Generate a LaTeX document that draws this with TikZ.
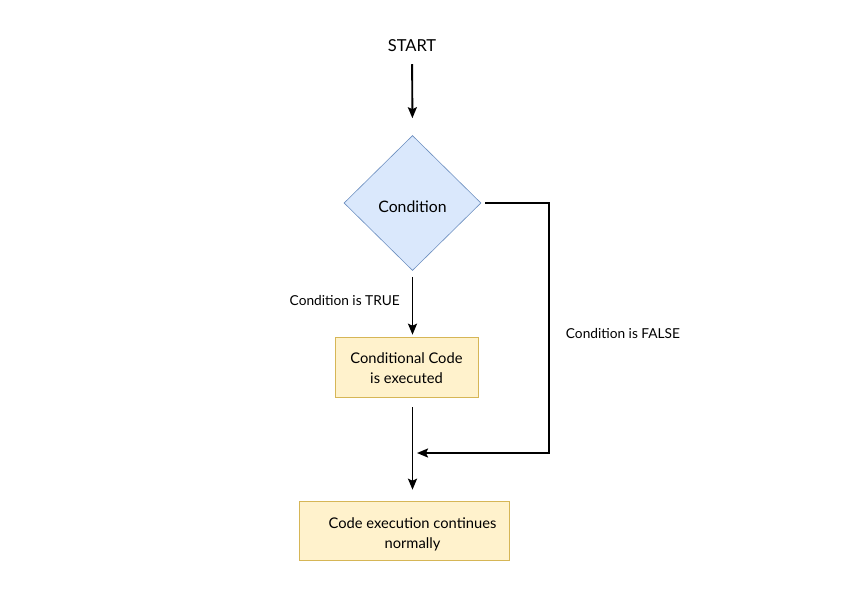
\documentclass[tikz,border=0pt]{standalone}
\usepackage{fontspec}
\setmainfont{Lato}
\usetikzlibrary{shapes.geometric,arrows.meta}
\definecolor{dfill}{HTML}{DAE8FC}
\definecolor{dline}{HTML}{6C8EBF}
\definecolor{yfill}{HTML}{FFF2CC}
\definecolor{yline}{HTML}{D6B656}
\tikzset{
  conn/.style={line width=1.9pt, draw=black, -{Stealth[length=11pt,width=9pt,inset=2pt]}},
  ybox/.style={draw=yline, fill=yfill, line width=0.6pt, align=center, inner sep=0pt, font=\fontsize{14.7}{20}\selectfont},
  lbl/.style={font=\fontsize{13.7}{16}\selectfont, inner sep=0pt},
}
\begin{document}
\begin{tikzpicture}[x=1pt,y=-1pt]
\useasboundingbox (0,0) rectangle (850,600);
\node[font=\fontsize{16.5}{20}\selectfont, inner sep=0pt] (start) at (412,46) {START};
\node[diamond, draw=dline, fill=dfill, line width=0.6pt, minimum width=137pt, minimum height=135pt, inner sep=0pt, font=\fontsize{15.8}{18}\selectfont] (cond) at (412.5,203) {\raisebox{-3.5pt}[\height][\depth]{Condition}};
\node[ybox, minimum width=143pt, minimum height=60pt] (code) at (406.5,367) {\rule{0pt}{13pt}Conditional Code\\is executed};
\node[ybox, minimum width=210pt, minimum height=59pt] (cont) at (404,530.5) {\rule{0pt}{19pt}\hspace*{17pt}Code execution continues\\ \hspace*{17pt}normally};
\node[lbl, anchor=east] (ltrue) at (400,301) {Condition is TRUE};
\node[lbl] (lfalse) at (623,334) {Condition is FALSE};
\coordinate (fx) at (549,203);
\coordinate (m) at (412,453);
\draw[conn, shorten <=12pt, shorten >=17pt] (start) -- (cond.north);
\draw[conn, shorten <=6pt, shorten >=2pt] (cond.south) -- (code.north -| cond.south);
\draw[conn, shorten <=10pt, shorten >=11pt] (code.south -| cond.south) -- (cont.north -| cond.south);
\draw[conn, shorten <=4pt, shorten >=5pt] (cond.east) -- (fx) |- (m);
\end{tikzpicture}
\end{document}
